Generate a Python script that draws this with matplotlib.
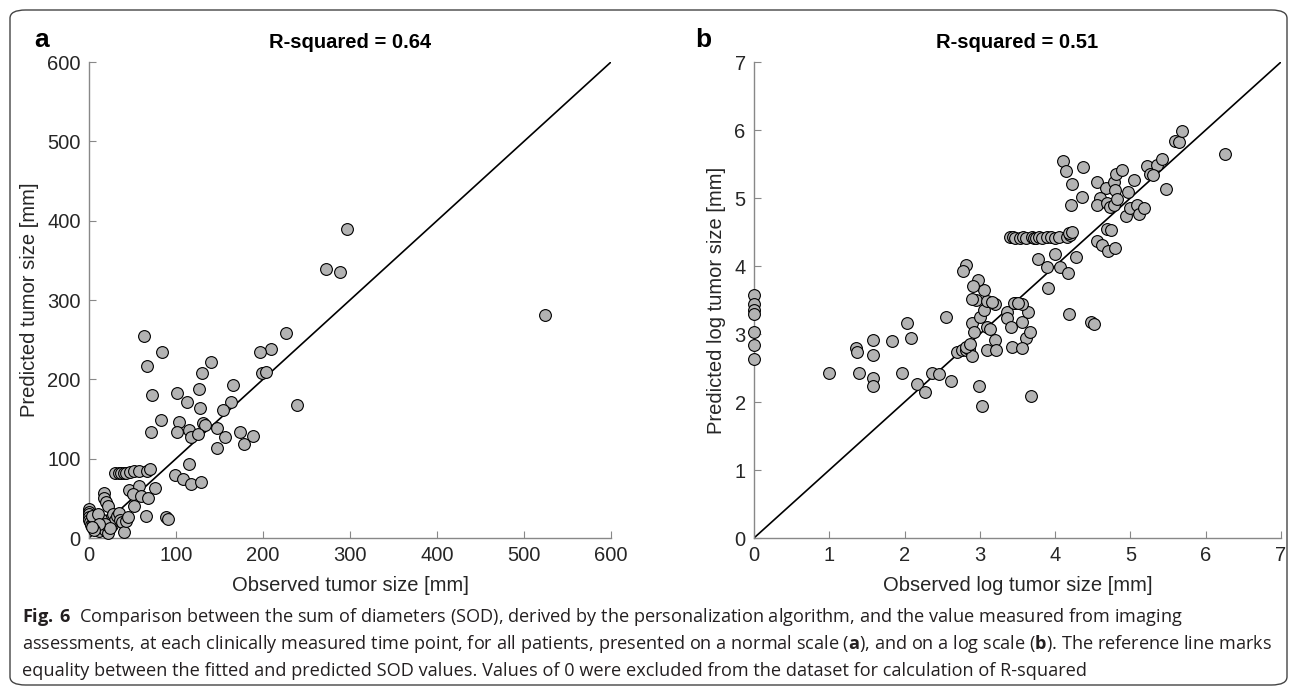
import matplotlib
matplotlib.use("Agg")
import matplotlib.pyplot as plt
from matplotlib.patches import FancyBboxPatch

plt.rcParams['font.family'] = ['Liberation Sans', 'DejaVu Sans']
plt.rcParams['mathtext.fontset'] = 'custom'
plt.rcParams['mathtext.rm'] = 'Open Sans'
plt.rcParams['mathtext.bf'] = 'Open Sans:bold'

# panel a: observed vs predicted tumor size [mm]
obs_a = [296, 272, 288, 524, 226, 63, 209, 197, 84, 67, 140, 199, 204, 130, 72, 101, 126, 166,
         113, 163, 128, 239, 154, 83, 104, 131, 133, 71, 101, 115, 117, 125, 147, 173, 189, 156,
         178, 147, 115, 99, 108, 117, 129,
         30, 34, 37, 40, 43, 47, 52, 57, 67, 70,
         46, 57, 76, 51, 60, 68, 52, 66, 88, 91,
         17, 17, 20, 22,
         0, 0, 0, 0, 0, 1, 2, 5, 7, 10, 12, 15, 18, 22, 20, 25, 26, 28, 30, 32, 34, 36, 38, 40,
         42, 45, 14, 8, 3, 10, 18, 24, 12, 6, 4]
pred_a = [389, 339, 335, 281, 259, 254, 238, 235, 234, 217, 222, 208, 209, 208, 180, 183, 188, 193,
          171, 172, 164, 168, 161, 149, 146, 145, 143, 133, 133, 136, 127, 131, 139, 134, 129, 127,
          118, 114, 93, 79, 75, 68, 70,
          82, 82, 82, 82, 82, 83, 84, 84, 84, 87,
          61, 65, 63, 55, 53, 50, 40, 28, 26, 24,
          57, 51, 45, 40,
          37, 33, 30, 27, 23, 20, 16, 18, 13, 14, 9, 22, 10, 6, 20, 25, 16, 30, 23, 28, 31, 23, 20, 8,
          22, 27, 24, 25, 28, 30, 18, 12, 18, 10, 14]

# panel b: observed vs predicted log tumor size
obs_b = [0, 0, 0, 0, 0, 0, 0,
         1.0, 1.36, 1.37, 1.40, 1.58, 1.58, 1.58, 1.58, 1.83, 2.03, 2.09, 1.97, 2.16, 2.27, 2.55,
         2.37, 2.46, 2.62, 2.99, 3.03, 3.68, 4.18, 4.47, 4.51,
         2.70, 2.76, 2.81, 2.85, 2.90, 2.81, 2.87,
         2.89, 2.92, 3.00, 3.06, 3.09, 3.14, 3.20, 3.10, 3.22, 3.36, 3.36, 3.42, 3.56, 3.64, 3.61,
         3.67, 3.43, 3.56, 2.95, 3.09, 3.20, 3.47, 3.56, 3.05, 2.97, 2.91, 2.82, 2.78, 2.90, 3.16,
         3.45, 3.51,
         3.40, 3.44, 3.47, 3.53, 3.57, 3.61, 3.69, 3.72, 3.74, 3.78, 3.83, 3.89, 3.94, 4.00, 4.05,
         4.16, 4.20, 4.19,
         3.77, 4.00, 3.89, 4.06, 4.17, 4.28, 3.90,
         4.10, 4.15, 4.37, 4.22, 4.36, 4.21, 4.56, 4.67, 4.78, 4.81, 4.89, 4.80, 4.60, 4.56, 4.69,
         4.73, 4.78, 4.82, 4.94, 4.99, 4.97, 5.05, 5.09, 5.12, 5.18, 5.22, 5.26, 5.35, 5.42, 5.47,
         5.30, 5.59, 5.65, 5.68, 6.25,
         4.69, 4.55, 4.62, 4.70, 4.80, 4.74, 4.23]
pred_b = [3.58, 3.44, 3.36, 3.30, 3.03, 2.84, 2.63,
          2.43, 2.79, 2.74, 2.43, 2.91, 2.69, 2.35, 2.24, 2.89, 3.16, 2.94, 2.43, 2.26, 2.14, 3.25,
          2.42, 2.41, 2.31, 2.24, 1.94, 2.09, 3.30, 3.18, 3.15,
          2.74, 2.76, 2.76, 2.78, 2.68, 2.81, 2.86,
          3.16, 3.03, 3.25, 3.35, 3.11, 3.08, 2.91, 2.76, 2.77, 3.33, 3.23, 3.11, 3.18, 3.32, 2.94,
          3.03, 2.81, 2.79, 3.50, 3.48, 3.44, 3.45, 3.44, 3.65, 3.79, 3.71, 4.01, 3.92, 3.52, 3.47,
          3.46, 3.45,
          4.42, 4.42, 4.41, 4.41, 4.42, 4.41, 4.42, 4.41, 4.41, 4.42, 4.41, 4.42, 4.42, 4.41, 4.42,
          4.42, 4.45, 4.49,
          4.10, 4.17, 3.99, 3.98, 3.90, 4.13, 3.67,
          5.54, 5.39, 5.46, 5.20, 5.01, 4.89, 5.23, 5.14, 5.24, 5.35, 5.41, 5.12, 5.00, 4.90, 4.92,
          4.87, 4.90, 4.98, 4.74, 4.85, 5.09, 5.27, 4.90, 4.77, 4.86, 5.47, 5.36, 5.49, 5.57, 5.13,
          5.34, 5.84, 5.83, 5.98, 5.65,
          4.54, 4.37, 4.31, 4.22, 4.26, 4.53, 4.50]

titles = ["R-squared = 0.64", "R-squared = 0.51"]
xlabels = ["Observed tumor size [mm]", "Observed log tumor size [mm]"]
ylabels = ["Predicted tumor size [mm]", "Predicted log tumor size [mm]"]

fig = plt.figure(figsize=(12.95, 6.89), dpi=100)

box = FancyBboxPatch((10/1295, 4/689), 1277/1295, 675/689,
                     boxstyle="round,pad=0,rounding_size=0.012",
                     transform=fig.transFigure, fill=False, edgecolor='#444444', lw=1.0)
fig.patches.append(box)

ax_a = fig.add_axes([89/1295, 151/689, 522/1295, 476/689])
ax_b = fig.add_axes([754/1295, 151/689, 527/1295, 476/689])

panels = [(ax_a, obs_a, pred_a, 600, range(0, 601, 100)),
          (ax_b, obs_b, pred_b, 7, range(0, 8))]

for i, (ax, xo, yp, lim, ticks) in enumerate(panels):
    ax.plot([0, lim], [0, lim], color='black', lw=1.2, zorder=2)
    ax.scatter(xo, yp, s=72, facecolor='#b3b3b3', edgecolor='black', linewidth=0.8,
               zorder=3, clip_on=False)
    ax.set_xlim(0, lim)
    ax.set_ylim(0, lim)
    ax.set_xticks(list(ticks))
    ax.set_yticks(list(ticks))
    for s in ['top', 'right']:
        ax.spines[s].set_visible(False)
    for s in ['left', 'bottom']:
        ax.spines[s].set_color('#888888')
        ax.spines[s].set_linewidth(1.0)
    ax.tick_params(direction='in', length=5, color='#888888', labelsize=14.5,
                   labelcolor='#262626', pad=6)
    ax.set_xlabel(xlabels[i], fontsize=14.5, color='#262626', labelpad=8)
    ax.set_ylabel(ylabels[i], fontsize=14.5, color='#262626', labelpad=6)
    ax.set_title(titles[i], fontsize=14.5, fontweight='bold', pad=10)

fig.text(42/1295, 1 - 40/689, "a", fontsize=19, fontweight='bold', ha='center', va='center')
fig.text(703/1295, 1 - 40/689, "b", fontsize=19, fontweight='bold', ha='center', va='center')

caption = [
    r"$\mathbf{Fig.\,6}$  Comparison between the sum of diameters (SOD), derived by the personalization algorithm, and the value measured from imaging",
    r"assessments, at each clinically measured time point, for all patients, presented on a normal scale ($\mathbf{a}$), and on a log scale ($\mathbf{b}$). The reference line marks",
    "equality between the fitted and predicted SOD values. Values of 0 were excluded from the dataset for calculation of R-squared",
]
for k, line in enumerate(caption):
    fig.text(22/1295, 1 - (617 + 27 * k)/689, line, fontsize=13.05, color='#231f20',
             ha='left', va='center', family=['Open Sans', 'DejaVu Sans'])

fig.savefig("out.png", dpi=100)
